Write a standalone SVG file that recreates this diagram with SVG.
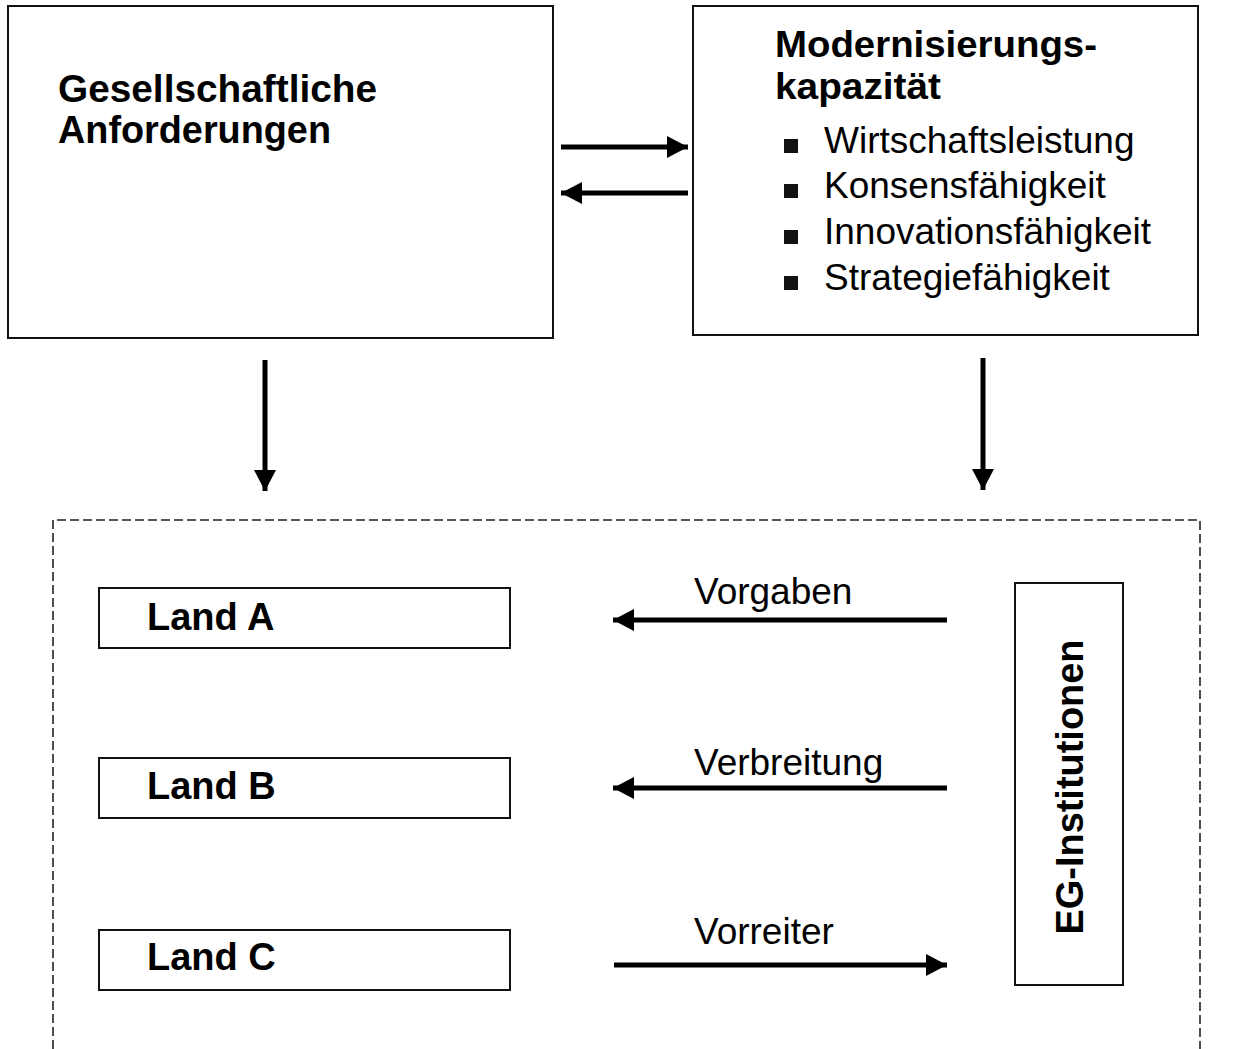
<svg xmlns="http://www.w3.org/2000/svg" width="1239" height="1049" viewBox="0 0 1239 1049">
<style>
  .box { fill: #fff; stroke: #111; stroke-width: 2; }
  .dash { fill: none; stroke: #222; stroke-width: 1.6; stroke-dasharray: 9 4; }
  .b { font-family: "Liberation Sans", Arial, sans-serif; font-weight: bold; font-size: 38px; fill: #000; }
  .r { font-family: "Liberation Sans", Arial, sans-serif; font-size: 37px; fill: #000; }
  .arr { stroke: #000; stroke-width: 5; fill: none; marker-end: url(#ah); }
  .bul { fill: #111; }
</style>
<defs>
  <marker id="ah" markerUnits="userSpaceOnUse" markerWidth="24" markerHeight="24" viewBox="0 0 24 24" refX="21" refY="12" orient="auto">
    <path d="M0,1 L21,12 L0,23 Z" fill="#000"/>
  </marker>
</defs>
<rect width="1239" height="1049" fill="#fff"/>

<g id="node-gesellschaft">
  <rect class="box" x="8" y="6" width="545" height="332"/>
  <text class="b" x="58" y="102" textLength="319" lengthAdjust="spacingAndGlyphs">Gesellschaftliche</text>
  <text class="b" x="58" y="143" textLength="273" lengthAdjust="spacingAndGlyphs">Anforderungen</text>
</g>

<g id="node-modernisierung">
  <rect class="box" x="693" y="6" width="505" height="329"/>
  <text class="b" x="775" y="57" style="font-size:36px" textLength="322" lengthAdjust="spacingAndGlyphs">Modernisierungs-</text>
  <text class="b" x="775" y="99" style="font-size:36px" textLength="166" lengthAdjust="spacingAndGlyphs">kapazität</text>
  <rect class="bul" x="784" y="139" width="14" height="14"/>
  <text class="r" x="824" y="153">Wirtschaftsleistung</text>
  <rect class="bul" x="784" y="184" width="14" height="14"/>
  <text class="r" x="824" y="198">Konsensfähigkeit</text>
  <rect class="bul" x="784" y="230" width="14" height="14"/>
  <text class="r" x="824" y="244">Innovationsfähigkeit</text>
  <rect class="bul" x="784" y="276" width="14" height="14"/>
  <text class="r" x="824" y="290">Strategiefähigkeit</text>
</g>

<g id="node-container">
  <path class="dash" d="M53,1049 L53,520 L1200,520 L1200,1049"/>
</g>

<g id="node-landA">
  <rect class="box" x="99" y="588" width="411" height="60"/>
  <text class="b" x="147" y="630">Land A</text>
</g>
<g id="node-landB">
  <rect class="box" x="99" y="758" width="411" height="60"/>
  <text class="b" x="147" y="799">Land B</text>
</g>
<g id="node-landC">
  <rect class="box" x="99" y="930" width="411" height="60"/>
  <text class="b" x="147" y="970">Land C</text>
</g>

<g id="node-eg">
  <rect class="box" x="1015" y="583" width="108" height="402"/>
  <text class="b" text-anchor="middle" transform="translate(1083,787) rotate(-90)" textLength="295" lengthAdjust="spacingAndGlyphs">EG-Institutionen</text>
</g>

<g id="connectors">
  <line class="arr" x1="561" y1="147" x2="688" y2="147"/>
  <line class="arr" x1="688" y1="193" x2="561" y2="193"/>
  <line class="arr" x1="265" y1="360" x2="265" y2="491"/>
  <line class="arr" x1="983" y1="358" x2="983" y2="490"/>
  <line class="arr" x1="947" y1="620" x2="613" y2="620"/>
  <line class="arr" x1="947" y1="788" x2="613" y2="788"/>
  <line class="arr" x1="614" y1="965" x2="947" y2="965"/>
  <text class="r" x="694" y="604">Vorgaben</text>
  <text class="r" x="694" y="775">Verbreitung</text>
  <text class="r" x="694" y="944">Vorreiter</text>
</g>
</svg>
